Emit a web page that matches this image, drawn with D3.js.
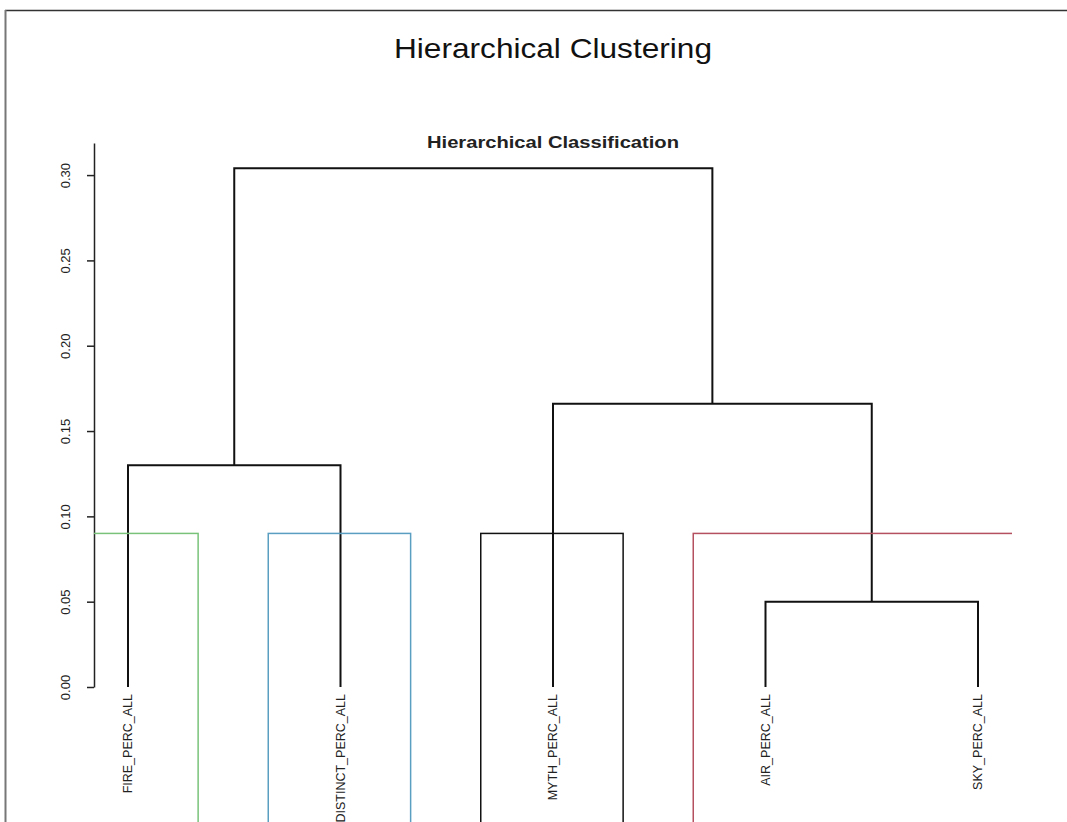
<!DOCTYPE html>
<meta charset="utf-8">
<style>
    body {
        margin: 0;
        background-color: #ffffff;
    }

    svg {
        font-family: "Liberation Sans", Arial, sans-serif;
        display: block;
    }

    .axis path,
    .axis line {
        fill: none;
        stroke: #222;
        stroke-width: 1.5px;
    }
</style>
<body>
<script src="https://cdn.jsdelivr.net/npm/d3@7"></script>
<script>

    // leaves, in plotting order
    const leaves = ["FIRE_PERC_ALL", "DISTINCT_PERC_ALL", "MYTH_PERC_ALL", "AIR_PERC_ALL", "SKY_PERC_ALL"];

    // merges like R's hclust: negative = leaf index (1-based), positive = earlier merge
    const mergeLeft = [-4, -1, -3, 2];
    const mergeRight = [-5, -2, 1, 3];
    const mergeHeight = [0.05, 0.13, 0.166, 0.304];

    // rect.hclust(k = 4) boxes
    const clusterFirst = [1, 2, 3, 4];
    const clusterLast = [1, 2, 3, 5];
    const clusterColor = ["#79c279", "#5a9fc2", "#111111", "#b4505f"];
    const cutHeight = 0.09;

    const yTicks = [0, 0.05, 0.10, 0.15, 0.20, 0.25, 0.30];

    const width = 1067;
    const height = 822;

    const svg = d3.select('body')
        .append('svg')
        .attr('width', width)
        .attr('height', height);

    // frame of the screenshot (top + left only)
    svg.append('line')
        .attr('x1', 5).attr('x2', width)
        .attr('y1', 10.5).attr('y2', 10.5)
        .style('stroke', '#333').style('stroke-width', 1.5);
    svg.append('line')
        .attr('x1', 5.5).attr('x2', 5.5)
        .attr('y1', 10).attr('y2', height)
        .style('stroke', '#777').style('stroke-width', 2);

    // leaf index -> x
    const x = d3.scaleLinear()
        .domain([1, leaves.length])
        .range([128, 978]);

    const y = d3.scaleLinear()
        .domain([0, 0.3188])
        .range([687, 143]);

    // title (the source image is stretched sideways a bit)
    svg.append('text')
        .attr('x', x(3))
        .attr('y', 58)
        .attr('textLength', 318)
        .attr('lengthAdjust', 'spacingAndGlyphs')
        .style('text-anchor', 'middle')
        .style('font-size', '28px')
        .style('fill', '#111')
        .text('Hierarchical Clustering');

    svg.append('text')
        .attr('x', x(3))
        .attr('y', 148)
        .attr('textLength', 252)
        .attr('lengthAdjust', 'spacingAndGlyphs')
        .style('text-anchor', 'middle')
        .style('font-size', '16px')
        .style('font-weight', 'bold')
        .style('fill', '#222')
        .text('Hierarchical Classification');

    // y axis
    const yAxis = d3.axisLeft(y)
        .tickValues(yTicks)
        .tickSize(7)
        .tickSizeOuter(0)
        .tickFormat(d3.format('.2f'));

    const gy = svg.append('g')
        .attr('class', 'axis')
        .attr('transform', 'translate(94,0)')
        .call(yAxis);

    gy.selectAll('text')
        .attr('x', 0)
        .attr('dy', '0.35em')
        .attr('transform', 'translate(-29,0) rotate(-90)')
        .style('text-anchor', 'middle')
        .style('font-size', '13px')
        .style('fill', '#222')
        .style('font-family', '"Liberation Sans", Arial, sans-serif');

    // compute node positions
    const nodeX = [], nodeY = [];
    function pos(id) {
        if (id < 0) return [x(-id), y(0)];
        return [nodeX[id - 1], nodeY[id - 1]];
    }

    const dendro = svg.append('g').attr('class', 'dendro');

    mergeHeight.forEach((h, i) => {
        const a = pos(mergeLeft[i]);
        const b = pos(mergeRight[i]);
        const yy = y(h);
        nodeX[i] = (a[0] + b[0]) / 2;
        nodeY[i] = yy;
        dendro.append('path')
            .attr('d', `M${a[0]},${a[1]}V${yy}H${b[0]}V${b[1]}`)
            .style('fill', 'none')
            .style('stroke', '#111')
            .style('stroke-width', 2);
    });

    // leaf labels
    svg.selectAll('.leaf')
        .data(leaves)
        .enter().append('text')
        .attr('class', 'leaf')
        .attr('transform', (d, i) => `translate(${x(i + 1)},${y(0) + 7}) rotate(-90)`)
        .attr('dy', '0.35em')
        .style('text-anchor', 'end')
        .style('font-size', '12.5px')
        .style('fill', '#222')
        .text(d => d);

    // cluster boxes, clipped to the plot region
    svg.append('clipPath')
        .attr('id', 'plotclip')
        .append('rect')
        .attr('x', 94)
        .attr('y', 0)
        .attr('width', 1012 - 94)
        .attr('height', height);

    const unit = x(2) - x(1);
    svg.append('g')
        .attr('clip-path', 'url(#plotclip)')
        .selectAll('rect')
        .data(clusterFirst)
        .enter().append('rect')
        .attr('x', (d, i) => x(d) - 0.34 * unit)
        .attr('y', y(cutHeight))
        .attr('width', (d, i) => x(clusterLast[i]) + 0.33 * unit - (x(d) - 0.34 * unit))
        .attr('height', height)
        .style('fill', 'none')
        .style('stroke', (d, i) => clusterColor[i])
        .style('stroke-width', 1.5);

</script>
</body>
</html>
